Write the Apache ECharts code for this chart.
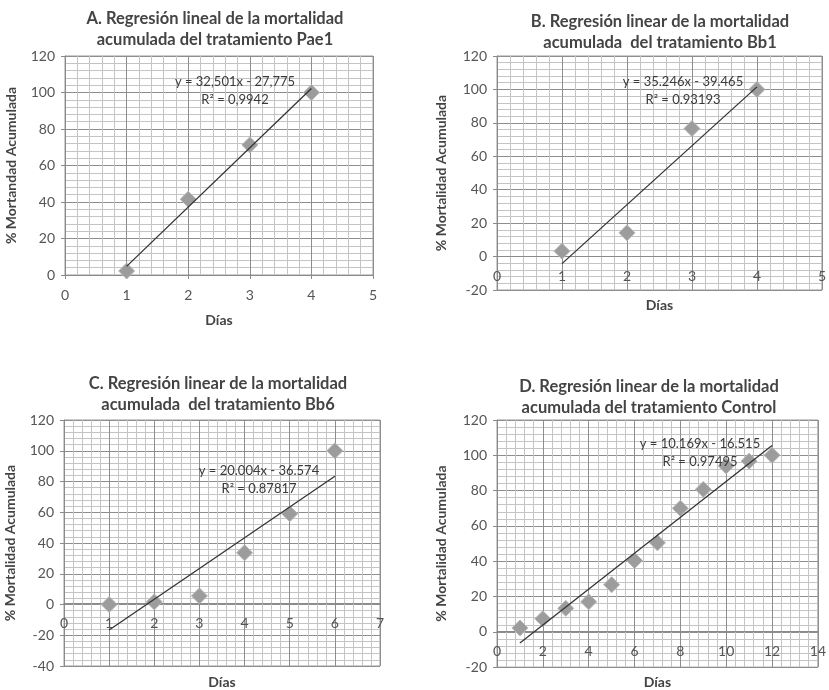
<!DOCTYPE html>
<html>
<head>
<meta charset="utf-8">
<script src="https://cdn.jsdelivr.net/npm/echarts@6/dist/echarts.min.js"></script>
<style>
  html, body { margin: 0; padding: 0; background: #fff; }
  #container { width: 829px; height: 690px; }
</style>
</head>
<body>
<div id="container"></div>
<script>
// datos
var daysA = [1, 2, 3, 4];
var mortA = [2.2, 41.5, 71.3, 100];
var daysB = [1, 2, 3, 4];
var mortB = [3.2, 14.2, 76.6, 100];
var daysC = [1, 2, 3, 4, 5, 6];
var mortC = [0, 1.7, 5.6, 33.6, 59, 100];
var daysD = [1, 2, 3, 4, 5, 6, 7, 8, 9, 10, 11, 12];
var mortD = [2.2, 7.4, 13.3, 17, 26.7, 40.4, 50.4, 70, 80.7, 94, 96.7, 100];

// y = pendiente * x + intercepto
var trendA = [32.501, -27.775];
var trendB = [35.246, -39.465];
var trendC = [20.004, -36.574];
var trendD = [10.169, -16.515];

var titles = [
  'A. Regresión lineal de la mortalidad\nacumulada del tratamiento Pae1',
  'B. Regresión linear de la mortalidad\nacumulada  del tratamiento Bb1',
  'C. Regresión linear de la mortalidad\nacumulada  del tratamiento Bb6',
  'D. Regresión linear de la mortalidad\nacumulada del tratamiento Control'
];
var equations = [
  'y = 32,501x - 27,775\nR² = 0,9942',
  'y = 35.246x - 39.465\nR² = 0.93193',
  'y = 20.004x - 36.574\nR² = 0.87817',
  'y = 10.169x - 16.515\nR² = 0.97495'
];
var yNames = ['% Mortandad Acumulada', '% Mortalidad Acumulada', '% Mortalidad Acumulada', '% Mortalidad Acumulada'];
var xRanges = [[0, 5, 1], [0, 5, 1], [0, 7, 1], [0, 14, 2]];
var yRanges = [[0, 120, 20], [-20, 120, 20], [-40, 120, 20], [-20, 120, 20]];

var FONT = 'Lato, "Open Sans", sans-serif';

function pts(xs, ys) {
  return xs.map(function (x, i) { return [x, ys[i]]; });
}
function trendLine(xs, t) {
  var a = xs[0], b = xs[xs.length - 1];
  return [[a, t[0] * a + t[1]], [b, t[0] * b + t[1]]];
}

var grids = [
  { left: 65, top: 56, width: 308, height: 219 },
  { left: 497, top: 56, width: 326, height: 234 },
  { left: 64, top: 420, width: 316, height: 252 },
  { left: 497, top: 420, width: 324, height: 253 }
];
var xNameGap = [38, 42, 72, 44];
var titlePos = [[215, 29], [660, 32], [218, 394], [649, 397]];
var eqPos = [[235, 91], [683, 91], [259, 480], [700, 453]];

var scatters = [pts(daysA, mortA), pts(daysB, mortB), pts(daysC, mortC), pts(daysD, mortD)];
var trends = [trendLine(daysA, trendA), trendLine(daysB, trendB), trendLine(daysC, trendC), trendLine(daysD, trendD)];

var xAxes = [], yAxes = [], series = [], graphics = [];
for (var i = 0; i < 4; i++) {
  grids[i].show = true;
  grids[i].borderColor = '#9a9a9a';
  grids[i].borderWidth = 1;
  grids[i].backgroundColor = '#fff';
  // el eje X cruza en y = 0 (estilo Excel)
  var ymin = yRanges[i][0], ymax = yRanges[i][1];
  var zeroShift = -grids[i].height * (0 - ymin) / (ymax - ymin);
  xAxes.push({
    type: 'value', gridIndex: i,
    min: xRanges[i][0], max: xRanges[i][1], interval: xRanges[i][2],
    offset: zeroShift,
    name: 'Días', nameLocation: 'middle', nameGap: xNameGap[i],
    nameTextStyle: { fontFamily: FONT, fontWeight: 'bold', fontSize: 14, color: '#444' },
    axisLine: { onZero: false, lineStyle: { color: '#8a8a8a' } },
    axisTick: { show: true, length: 4, lineStyle: { color: '#8a8a8a' } },
    axisLabel: { fontFamily: FONT, fontSize: 14, color: '#555', margin: 13 },
    splitLine: { show: true, lineStyle: { color: '#8e8e8e', width: 1 } },
    minorTick: { show: false, splitNumber: 5 },
    minorSplitLine: { show: true, lineStyle: { color: '#c4c4c4', width: 1 } }
  });
  yAxes.push({
    type: 'value', gridIndex: i,
    min: ymin, max: ymax, interval: yRanges[i][2],
    name: yNames[i], nameLocation: 'middle', nameGap: i % 2 ? 49 : 47,
    nameTextStyle: { fontFamily: FONT, fontWeight: 'bold', fontSize: 14, color: '#444' },
    axisLine: { show: true, onZero: false, lineStyle: { color: '#8a8a8a' } },
    axisTick: { show: true, length: 4, lineStyle: { color: '#8a8a8a' } },
    axisLabel: { fontFamily: FONT, fontSize: 14, color: '#555', margin: 10 },
    splitLine: { show: true, lineStyle: { color: '#8e8e8e', width: 1 } },
    minorTick: { show: false, splitNumber: 5 },
    minorSplitLine: { show: true, lineStyle: { color: '#c4c4c4', width: 1 } }
  });
  series.push({
    type: 'scatter', xAxisIndex: i, yAxisIndex: i,
    data: scatters[i], symbol: 'diamond', symbolSize: 16,
    itemStyle: { color: '#9c9c9c', borderColor: '#b8b8b8', borderWidth: 1, opacity: 1 },
    z: 3
  });
  series.push({
    type: 'line', xAxisIndex: i, yAxisIndex: i,
    data: trends[i], symbol: 'none', silent: true,
    lineStyle: { color: '#333', width: 1.3 },
    z: 4
  });
  graphics.push({
    type: 'text', x: titlePos[i][0], y: titlePos[i][1],
    style: { text: titles[i], align: 'center', verticalAlign: 'middle', fill: '#444',
      font: 'bold 16.5px ' + FONT, lineHeight: 21 }
  });
  graphics.push({
    type: 'text', x: eqPos[i][0], y: eqPos[i][1], z: 10,
    style: { text: equations[i], align: 'center', verticalAlign: 'middle', fill: '#3a3a3a',
      font: '13px ' + FONT, lineHeight: 18 }
  });
}

var option = {
  animation: false,
  backgroundColor: '#fff',
  grid: grids,
  xAxis: xAxes,
  yAxis: yAxes,
  series: series,
  graphic: graphics
};

var myChart = echarts.init(document.getElementById('container'), null, { renderer: 'canvas' });
myChart.setOption(option);
</script>
</body>
</html>
